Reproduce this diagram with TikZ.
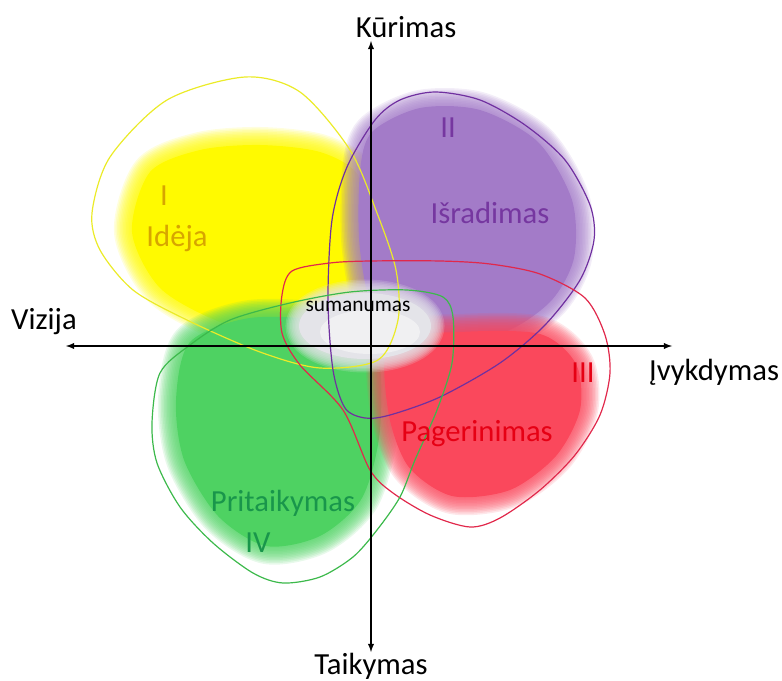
\documentclass[tikz,border=0pt]{standalone}
\usepackage{fontspec}
\setmainfont{Carlito}
\usepackage{tikz}
\usetikzlibrary{arrows}

\definecolor{IdeaYellow}{RGB}{255,250,0}
\definecolor{IdeaLine}{RGB}{235,235,40}
\definecolor{IdeaText}{RGB}{215,165,0}
\definecolor{InvPurple}{RGB}{163,123,200}
\definecolor{InvLine}{RGB}{112,48,160}
\definecolor{InvText}{RGB}{118,55,160}
\definecolor{ImpRed}{RGB}{250,72,92}
\definecolor{ImpLine}{RGB}{225,40,75}
\definecolor{ImpText}{RGB}{230,0,20}
\definecolor{AdaGreen}{RGB}{78,210,98}
\definecolor{AdaLine}{RGB}{60,185,75}
\definecolor{AdaText}{RGB}{25,150,75}
\definecolor{CoreGray}{RGB}{228,228,233}

\tikzset{axis/.style={<->, >=latex, line width=1.1pt}}
\tikzset{outline/.style={line width=0.9pt}}
\tikzset{axislabel/.style={font=\fontsize{23}{27}\selectfont, inner sep=0pt}}
\tikzset{phase/.style={font=\fontsize{23}{27}\selectfont, inner sep=0pt}}
\newcommand{\softblob}[2]{%
  \foreach \w in {3,6,...,36}
    \draw[#1, line width={\w*0.75pt}, opacity=0.13, line join=round]
      plot[smooth cycle] coordinates {#2};
  \fill[#1] plot[smooth cycle] coordinates {#2};
}

\begin{document}
\begin{tikzpicture}[x=0.75pt, y=-0.75pt]
  \useasboundingbox (0,0) rectangle (782,681);

  % --- soft blobs ---
  \softblob{IdeaYellow}{(150,172) (200,150) (260,145) (320,152) (358,175) (370,230) (372,300) (340,332) (280,334) (220,322) (160,288) (132,232)}
  \softblob{InvPurple}{(372,132) (420,108) (480,110) (538,142) (572,200) (574,258) (550,302) (500,334) (430,338) (378,322) (360,250) (360,172)}
  \softblob{AdaGreen}{(190,342) (250,318) (330,322) (376,348) (380,430) (362,498) (320,536) (266,546) (218,516) (184,460) (176,400)}
  \softblob{ImpRed}{(390,342) (460,332) (540,334) (576,364) (580,410) (556,456) (510,490) (452,496) (408,466) (388,410)}

  % --- sumanumas core ---
  \foreach \w in {3,6,...,27}
    \draw[CoreGray, line width={\w*0.75pt}, opacity=0.2] (365,326) ellipse (66 and 33);
  \fill[CoreGray] (365,326) ellipse (66 and 33);
  \fill[white, opacity=0.45] (370,332) ellipse (50 and 22);

  % --- outlines ---
  \draw[outline, IdeaLine] plot[smooth cycle] coordinates {(245,77) (300,92) (350,150) (377,213) (396,270) (398,320) (378,360) (320,368) (260,352) (187,320) (133,290) (100,250) (92,213) (110,157) (167,100)};
  \draw[outline, InvLine] plot[smooth cycle] coordinates {(435,92) (480,100) (525,125) (565,160) (590,205) (594,240) (580,280) (545,325) (500,363) (440,397) (390,415) (365,418) (345,408) (333,370) (328,300) (332,220) (347,167) (375,120) (400,100)};
  \draw[outline, ImpLine] plot[smooth cycle] coordinates {(292,271) (330,263) (370,261) (440,261) (490,264) (540,274) (585,298) (605,335) (610,373) (600,415) (575,455) (540,490) (500,518) (470,527) (430,515) (393,493) (370,470) (343,410) (300,365) (282,333) (282,295)};
  \draw[outline, AdaLine] plot[smooth cycle] coordinates {(190,345) (230,320) (290,303) (350,292) (407,290) (443,297) (453,317) (452,363) (437,410) (415,460) (400,497) (377,530) (353,557) (320,577) (283,583) (253,573) (213,543) (180,507) (157,463) (152,423) (160,373)};

  % --- axes ---
  \coordinate (west) at (66,346);
  \coordinate (east) at (672,346);
  \coordinate (north) at (371,41);
  \coordinate (south) at (371,652);
  \draw[axis] (west) -- (east);
  \draw[axis] (north) -- (south);

  \node[axislabel] (kurimas) at (406,27) {Kūrimas};
  \node[axislabel] (taikymas) at (371,666) {Taikymas};
  \node[axislabel] (vizija) at (44,322) {Vizija};
  \node[axislabel] (ivykdymas) at (714,372) {Įvykdymas};

  % --- phases ---
  \node[phase, IdeaText] (ideaNum) at (164,196) {I};
  \node[phase, IdeaText] (idea) at (177,238) {Idėja};
  \node[phase, InvText] (invNum) at (448,128) {II};
  \node[phase, InvText] (inv) at (490,213) {Išradimas};
  \node[phase, ImpText] (impNum) at (583,373) {III};
  \node[phase, ImpText] (imp) at (477,434) {Pagerinimas};
  \node[phase, AdaText] (ada) at (283,503) {Pritaikymas};
  \node[phase, AdaText] (adaNum) at (258,543) {IV};
  \node[font=\fontsize{16}{19}\selectfont, inner sep=0pt] (sumanumas) at (358,306) {sumanumas};
\end{tikzpicture}
\end{document}
